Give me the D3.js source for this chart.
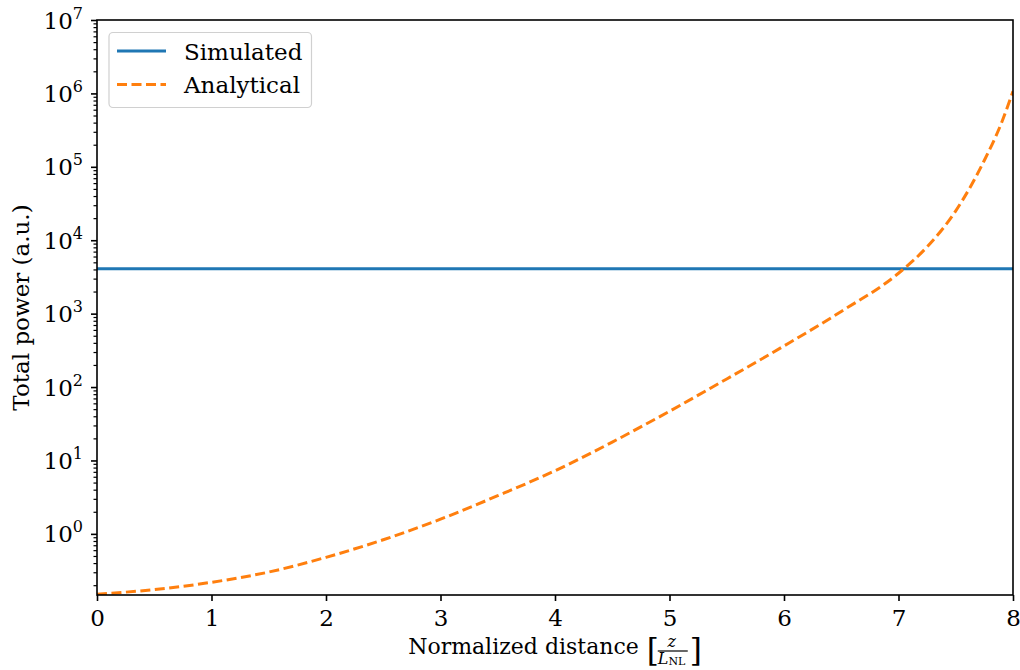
<!DOCTYPE html>
<html>
<head>
<meta charset="utf-8">
<script src="https://cdn.jsdelivr.net/npm/d3@7"></script>
<style>
  body { margin: 0; background: #fff; }
  text { font-family: "DejaVu Serif", serif; fill: #000; }
</style>
</head>
<body>
<script>
// values
let distance = [0, 0.5, 1, 1.5, 2, 2.5, 3, 3.5, 4, 4.5, 5, 5.5, 6, 6.5, 7, 7.25, 7.5, 7.75, 7.9, 8];
let analytical = [0.151, 0.174, 0.219, 0.302, 0.479, 0.832, 1.585, 3.31, 7.24, 17.8, 46.8, 129, 363, 1072, 3548, 8130, 25100, 123000, 398000, 1.07e6];
let simulatedDistance = [0, 8];
let simulated = [4100, 4100];
let xTicks = [0, 1, 2, 3, 4, 5, 6, 7, 8];
let yExponents = [0, 1, 2, 3, 4, 5, 6, 7];
let seriesNames = ["Simulated", "Analytical"];

let svgWidth = 1020;
let svgHeight = 670;
let plotLeft = 97, plotRight = 1013, plotTop = 20, plotBottom = 595;

const svg = d3.select("body")
  .append("svg")
  .attr("width", svgWidth)
  .attr("height", svgHeight);

const x = d3.scaleLinear().domain([0, 8]).range([plotLeft, plotRight]);
const y = d3.scaleLog().domain([0.147, 1e7]).range([plotBottom, plotTop]);

// lines
const line = d3.line()
  .x(function(d) { return x(d[0]); })
  .y(function(d) { return y(d[1]); });

svg.append("clipPath").attr("id", "clip")
  .append("rect")
  .attr("x", plotLeft).attr("y", plotTop)
  .attr("width", plotRight - plotLeft).attr("height", plotBottom - plotTop);

svg.append("path")
  .datum(d3.zip(simulatedDistance, simulated))
  .attr("d", line)
  .attr("fill", "none")
  .attr("stroke", "#1f77b4")
  .attr("stroke-width", 3);

svg.append("path")
  .datum(d3.zip(distance, analytical))
  .attr("d", line.curve(d3.curveMonotoneX))
  .attr("clip-path", "url(#clip)")
  .attr("fill", "none")
  .attr("stroke", "#ff7f0e")
  .attr("stroke-width", 3)
  .attr("stroke-dasharray", "10,4.5");

// x axis
const xAxis = svg.append("g")
  .attr("transform", "translate(0," + plotBottom + ")")
  .call(d3.axisBottom(x).tickValues(xTicks).tickFormat(d3.format("d")).tickSize(6).tickPadding(9));
xAxis.select(".domain").remove();
xAxis.selectAll("line").attr("stroke", "#000").attr("stroke-width", 1.6);
xAxis.selectAll("text").attr("font-size", "23px").attr("font-family", "DejaVu Serif");

// y axis: major ticks at decades, minor ticks in between
let minorTicks = y.ticks().filter(function(d) {
  return Math.abs(Math.log10(d) - Math.round(Math.log10(d))) > 1e-6;
});
const yMinor = svg.append("g")
  .attr("transform", "translate(" + plotLeft + ",0)")
  .call(d3.axisLeft(y).tickValues(minorTicks).tickFormat("").tickSize(3.5));
yMinor.select(".domain").remove();
yMinor.selectAll("line").attr("stroke", "#000").attr("stroke-width", 1.2);

const yMajor = svg.append("g")
  .attr("transform", "translate(" + plotLeft + ",0)")
  .call(d3.axisLeft(y).tickValues(yExponents.map(function(e) { return Math.pow(10, e); })).tickFormat("").tickSize(6));
yMajor.select(".domain").remove();
yMajor.selectAll("line").attr("stroke", "#000").attr("stroke-width", 1.6);

const yLabels = svg.append("g").selectAll("text")
  .data(yExponents)
  .enter()
  .append("text")
  .attr("x", 0)
  .attr("y", function(d) { return y(Math.pow(10, d)) + 8.5; })
  .attr("font-size", "23px");
yLabels.append("tspan").text("10");
yLabels.append("tspan").attr("dy", -10).attr("font-size", "16px").text(function(d) { return d; });
// right-align the labels against the ticks
yLabels.each(function() {
  let w = this.getBBox().width;
  d3.select(this).attr("x", plotLeft - 14 - w);
});

// frame
svg.append("rect")
  .attr("x", plotLeft).attr("y", plotTop)
  .attr("width", plotRight - plotLeft).attr("height", plotBottom - plotTop)
  .attr("fill", "none")
  .attr("stroke", "#000")
  .attr("stroke-width", 1.6);

// axis titles
svg.append("text")
  .attr("transform", "translate(29," + ((plotTop + plotBottom) / 2) + ") rotate(-90)")
  .attr("text-anchor", "middle")
  .attr("font-size", "23px")
  .text("Total power (a.u.)");

const xTitle = svg.append("g");
const xt = xTitle.append("text")
  .attr("x", 0).attr("y", 654)
  .attr("font-size", "22px")
  .text("Normalized distance");
let tw = xt.node().getComputedTextLength() + 8;
xTitle.append("text")
  .attr("x", tw).attr("y", 661)
  .attr("font-size", "31px")
  .attr("font-family", "DejaVu Sans")
  .attr("font-weight", "300")
  .text("[");
xTitle.append("text")
  .attr("x", tw + 25).attr("y", 647)
  .attr("text-anchor", "middle")
  .attr("font-size", "16px")
  .attr("font-family", "DejaVu Sans")
  .attr("font-style", "italic")
  .text("z");
xTitle.append("line")
  .attr("x1", tw + 11).attr("x2", tw + 41)
  .attr("y1", 651).attr("y2", 651)
  .attr("stroke", "#000").attr("stroke-width", 1.2);
const den = xTitle.append("text")
  .attr("x", tw + 11).attr("y", 664)
  .attr("font-size", "16px")
  .attr("font-family", "DejaVu Sans");
den.append("tspan").attr("font-style", "italic").text("L");
den.append("tspan").attr("dy", 1).attr("font-size", "11px").text("NL");
xTitle.append("text")
  .attr("x", tw + 43).attr("y", 661)
  .attr("font-size", "31px")
  .attr("font-family", "DejaVu Sans")
  .attr("font-weight", "300")
  .text("]");
let gw = xTitle.node().getBBox().width;
xTitle.attr("transform", "translate(" + ((plotLeft + plotRight) / 2 - gw / 2) + ",0)");

// legend
const legend = svg.append("g");
legend.append("rect")
  .attr("x", 109).attr("y", 32.5)
  .attr("width", 202.5).attr("height", 75)
  .attr("rx", 4)
  .attr("fill", "#fff")
  .attr("fill-opacity", 0.8)
  .attr("stroke", "#d0d0d0")
  .attr("stroke-width", 1.2);

legend.selectAll("line")
  .data(seriesNames)
  .enter()
  .append("line")
  .attr("x1", 117).attr("x2", 166)
  .attr("y1", function(d, i) { return 51 + i * 33.5; })
  .attr("y2", function(d, i) { return 51 + i * 33.5; })
  .attr("stroke", function(d, i) { return i == 0 ? "#1f77b4" : "#ff7f0e"; })
  .attr("stroke-width", 3)
  .attr("stroke-dasharray", function(d, i) { return i == 0 ? null : "10,4.5"; });

legend.selectAll("text")
  .data(seriesNames)
  .enter()
  .append("text")
  .attr("x", 184)
  .attr("y", function(d, i) { return 59.5 + i * 33.5; })
  .attr("font-size", "23px")
  .text(function(d) { return d; });
</script>
</body>
</html>
